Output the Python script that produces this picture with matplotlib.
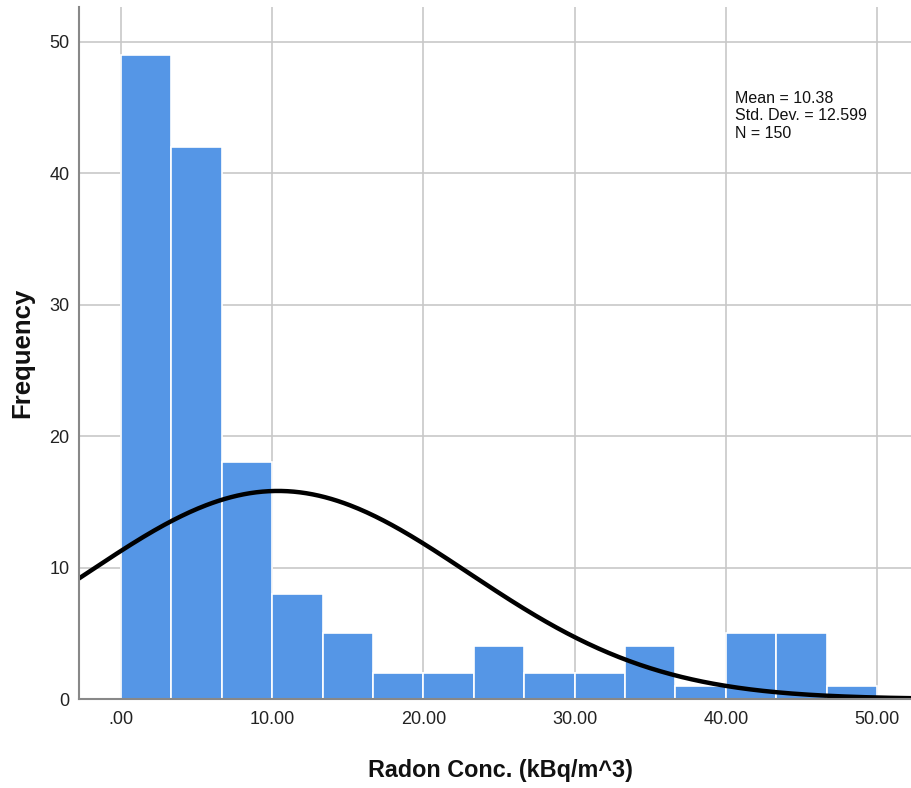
import numpy as np
import matplotlib
matplotlib.use("Agg")
import matplotlib.pyplot as plt

plt.rcParams['font.family'] = ['Liberation Sans', 'DejaVu Sans']

# Histogram of radon concentration (15 equal bins from 0 to 50)
bin_edges = np.linspace(0, 50, 16)
counts = [49, 42, 18, 8, 5, 2, 2, 4, 2, 2, 4, 1, 5, 5, 1]
mean_val = 10.38
std_val = 12.599
n_obs = 150

x_ticks = [0, 10, 20, 30, 40, 50]
x_tick_labels = [".00", "10.00", "20.00", "30.00", "40.00", "50.00"]
y_ticks = [0, 10, 20, 30, 40, 50]

fig = plt.figure(figsize=(9.11, 7.88), dpi=100)
ax = fig.add_axes([79 / 911, 1 - 699 / 788, 1 - 79 / 911, (699 - 7) / 788])

ax.set_xlim(-2.78, 52.25)
ax.set_ylim(0, 52.66)

ax.set_axisbelow(True)
ax.grid(True, color="#c8c8c8", linewidth=1.2)

widths = np.diff(bin_edges)
ax.bar(bin_edges[:-1], counts, width=widths, align="edge",
       color="#5596e6", edgecolor="white", linewidth=1.2)

# Normal curve scaled to counts
xs = np.linspace(-2.78, 52.25, 400)
bw = widths[0]
pdf = np.exp(-0.5 * ((xs - mean_val) / std_val) ** 2) / (std_val * np.sqrt(2 * np.pi))
ax.plot(xs, n_obs * bw * pdf, color="black", linewidth=3.2)

ax.set_xticks(x_ticks)
ax.set_xticklabels(x_tick_labels)
ax.set_yticks(y_ticks)
ax.tick_params(axis="both", length=0, labelsize=13, colors="#222222")
ax.tick_params(axis="x", pad=9)
ax.tick_params(axis="y", pad=7)

for side in ("top", "right"):
    ax.spines[side].set_visible(False)
for side in ("left", "bottom"):
    ax.spines[side].set_color("#888888")
    ax.spines[side].set_linewidth(1.5)

fig.text(22 / 911, 1 - 353 / 788, "Frequency", fontsize=18.5, fontweight="bold",
         rotation=90, ha="center", va="center", color="#111111")
fig.text(500 / 911, 1 - 770 / 788, "Radon Conc. (kBq/m^3)", fontsize=16.8,
         fontweight="bold", ha="center", va="center", color="#111111")

stats_text = f"Mean = {mean_val:.2f}\nStd. Dev. = {std_val:.3f}\nN = {n_obs}"
fig.text(735 / 911, 1 - 91 / 788, stats_text, fontsize=11.5, va="top", ha="left",
         linespacing=1.2, color="#111111")

fig.savefig("out.png", dpi=100)
